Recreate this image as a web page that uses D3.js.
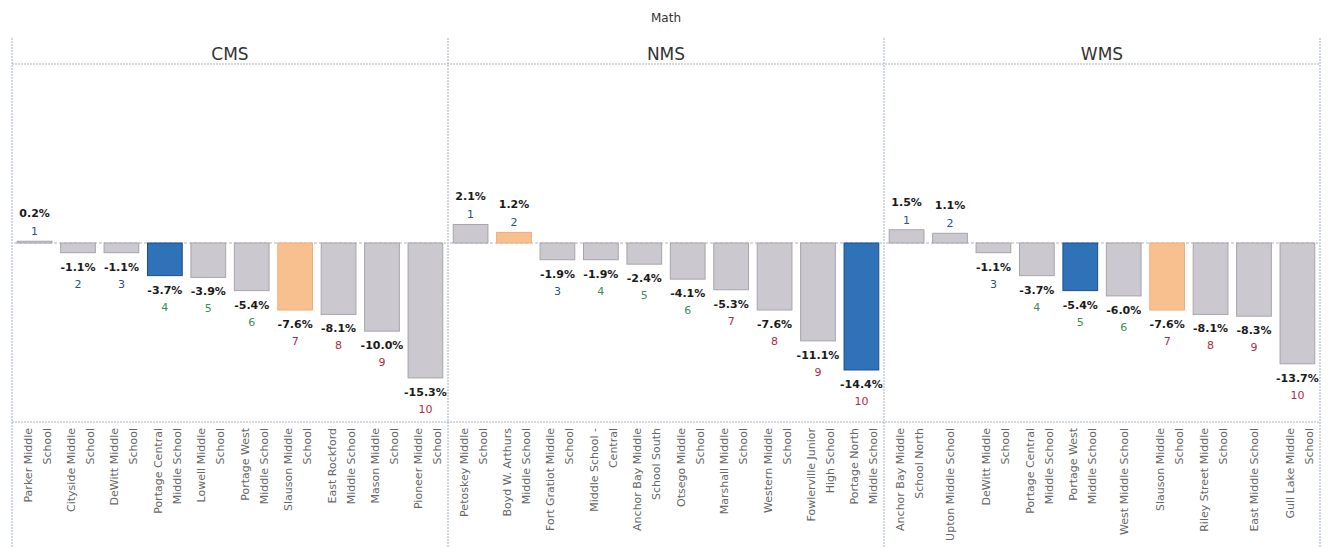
<!DOCTYPE html>
<html>
<head>
<meta charset="utf-8">
<script src="https://cdn.jsdelivr.net/npm/d3@7"></script>
<style>
  body { margin: 0; background: #fff; }
  text { font-family: "DejaVu Sans", sans-serif; }
</style>
</head>
<body>
<svg id="chart"></svg>
<script>
// chart data
var chartTitle = "Math";
var panels = ["CMS", "NMS", "WMS"];

var cmsSchools = ["Parker Middle\nSchool", "Cityside Middle\nSchool", "DeWitt Middle\nSchool",
  "Portage Central\nMiddle School", "Lowell Middle\nSchool", "Portage West\nMiddle School",
  "Slauson Middle\nSchool", "East Rockford\nMiddle School", "Mason Middle\nSchool", "Pioneer Middle\nSchool"];
var cmsValues = [0.2, -1.1, -1.1, -3.7, -3.9, -5.4, -7.6, -8.1, -10.0, -15.3];

var nmsSchools = ["Petoskey Middle\nSchool", "Boyd W. Arthurs\nMiddle School", "Fort Gratiot Middle\nSchool",
  "Middle School -\nCentral", "Anchor Bay Middle\nSchool South", "Otsego Middle\nSchool",
  "Marshall Middle\nSchool", "Western Middle\nSchool", "Fowlerville Junior\nHigh School", "Portage North\nMiddle School"];
var nmsValues = [2.1, 1.2, -1.9, -1.9, -2.4, -4.1, -5.3, -7.6, -11.1, -14.4];

var wmsSchools = ["Anchor Bay Middle\nSchool North", "Upton Middle School", "DeWitt Middle\nSchool",
  "Portage Central\nMiddle School", "Portage West\nMiddle School", "West Middle School",
  "Slauson Middle\nSchool", "Riley Street Middle\nSchool", "East Middle School", "Gull Lake Middle\nSchool"];
var wmsValues = [1.5, 1.1, -1.1, -3.7, -5.4, -6.0, -7.6, -8.1, -8.3, -13.7];

var ranks = [1, 2, 3, 4, 5, 6, 7, 8, 9, 10];

// the school of interest (blue) and its comparison school (orange), one per panel
var blueSchools = ["Portage Central Middle School", "Portage North Middle School", "Portage West Middle School"];
var orangeSchools = ["Slauson Middle School", "Boyd W. Arthurs Middle School", "Slauson Middle School"];

var panelSchools = [cmsSchools, nmsSchools, wmsSchools],
    panelValues = [cmsValues, nmsValues, wmsValues];

// layout
var width = 1329, height = 548;
var frame = {left: 12, right: 1320, top: 38, head: 64, axis: 422};
var panelW = (frame.right - frame.left) / panels.length;

var svg = d3.select("#chart")
  .attr("width", width)
  .attr("height", height);

var y = d3.scaleLinear().domain([-20.3, 20.3]).range([frame.axis, frame.head]);

function rankColor(r) {
  if (r <= 3) return "#2f4f8f";
  if (r <= 6) return "#3e8c5c";
  return "#b02a4a";
}
function barFill(name, i) {
  if (name === blueSchools[i]) return "#2f72b8";
  if (name === orangeSchools[i]) return "#f8c08e";
  return "#cbc9cf";
}
function barStroke(name, i) {
  if (name === blueSchools[i]) return "#1b4d8e";
  if (name === orangeSchools[i]) return "#eeae78";
  return "#a6a5ab";
}

// title
svg.append("text")
  .attr("x", (frame.left + frame.right) / 2)
  .attr("y", 22)
  .attr("text-anchor", "middle")
  .style("font-size", "12px")
  .style("fill", "#333")
  .text(chartTitle);

// header and axis separators
[frame.head, frame.axis].forEach(function(yy) {
  svg.append("line")
    .attr("x1", frame.left).attr("x2", frame.right)
    .attr("y1", yy).attr("y2", yy)
    .style("stroke", "#aab3bd")
    .style("stroke-dasharray", "2,1");
});

panels.forEach(function(p, i) {
  var x0 = frame.left + i * panelW;
  var data = panelSchools[i].map(function(s, j) {
    return {label: s, name: s.replace("\n", " "), val: panelValues[i][j], rank: ranks[j]};
  });

  var x = d3.scaleBand()
    .domain(data.map(function(d) { return d.name; }))
    .range([0, panelW])
    .paddingInner(0.2)
    .paddingOuter(0.12);

  var g = svg.append("g")
    .attr("transform", "translate(" + x0 + ",0)");

  // panel header
  g.append("text")
    .attr("x", panelW / 2)
    .attr("y", 60)
    .attr("text-anchor", "middle")
    .style("font-size", "17px")
    .style("fill", "#333")
    .text(p);

  // zero line
  g.append("line")
    .attr("x1", 2).attr("x2", panelW - 2)
    .attr("y1", y(0)).attr("y2", y(0))
    .style("stroke", "#b4b4b8")
    .style("stroke-dasharray", "3,2");

  // bars
  g.selectAll(".bar")
      .data(data)
    .enter().append("rect")
      .attr("class", "bar")
      .attr("x", function(d) { return x(d.name); })
      .attr("y", function(d) { return y(Math.max(0, d.val)); })
      .attr("width", x.bandwidth())
      .attr("height", function(d) { return Math.abs(y(d.val) - y(0)); })
      .style("fill", function(d) { return barFill(d.name, i); })
      .style("stroke", function(d) { return barStroke(d.name, i); })
      .style("stroke-width", 1);

  // value labels
  g.selectAll(".val")
      .data(data)
    .enter().append("text")
      .attr("class", "val")
      .attr("x", function(d) { return x(d.name) + x.bandwidth() / 2; })
      .attr("y", function(d) { return d.val >= 0 ? y(d.val) - 24 : y(d.val) + 18; })
      .attr("text-anchor", "middle")
      .style("font-size", "11px")
      .style("font-weight", "600")
      .style("fill", "#1a1a1a")
      .text(function(d) { return d.val.toFixed(1) + "%"; });

  // rank labels
  g.selectAll(".rank")
      .data(data)
    .enter().append("text")
      .attr("class", "rank")
      .attr("x", function(d) { return x(d.name) + x.bandwidth() / 2; })
      .attr("y", function(d) { return d.val >= 0 ? y(d.val) - 6 : y(d.val) + 35; })
      .attr("text-anchor", "middle")
      .style("font-size", "11px")
      .style("fill", function(d) { return rankColor(d.rank); })
      .text(function(d) { return d.rank; });

  // school axis, labels wrapped and turned upright
  var ax = g.append("g")
    .attr("transform", "translate(0," + frame.axis + ")")
    .call(d3.axisBottom(x).tickSize(0).tickSizeOuter(0).tickFormat(""));
  ax.select(".domain").remove();

  var byName = {};
  data.forEach(function(d) { byName[d.name] = d.label.split("\n"); });

  ax.selectAll(".tick").each(function(n) {
    var lines = byName[n];
    var t = d3.select(this).append("text")
      .attr("transform", "rotate(-90)")
      .attr("text-anchor", "end")
      .style("font-size", "11px")
      .style("fill", "#666");
    lines.forEach(function(l, k) {
      var off = lines.length === 1 ? 4 : (k === 0 ? -3 : 16);
      t.append("tspan")
        .attr("x", -6)
        .attr("y", off)
        .text(l);
    });
  });
});

// panel borders
d3.range(panels.length + 1).forEach(function(k) {
  var xx = frame.left + k * panelW;
  svg.append("line")
    .attr("x1", xx).attr("x2", xx)
    .attr("y1", frame.top).attr("y2", height)
    .style("stroke", "#9fb0c2")
    .style("stroke-dasharray", "2,1");
});
</script>
</body>
</html>
